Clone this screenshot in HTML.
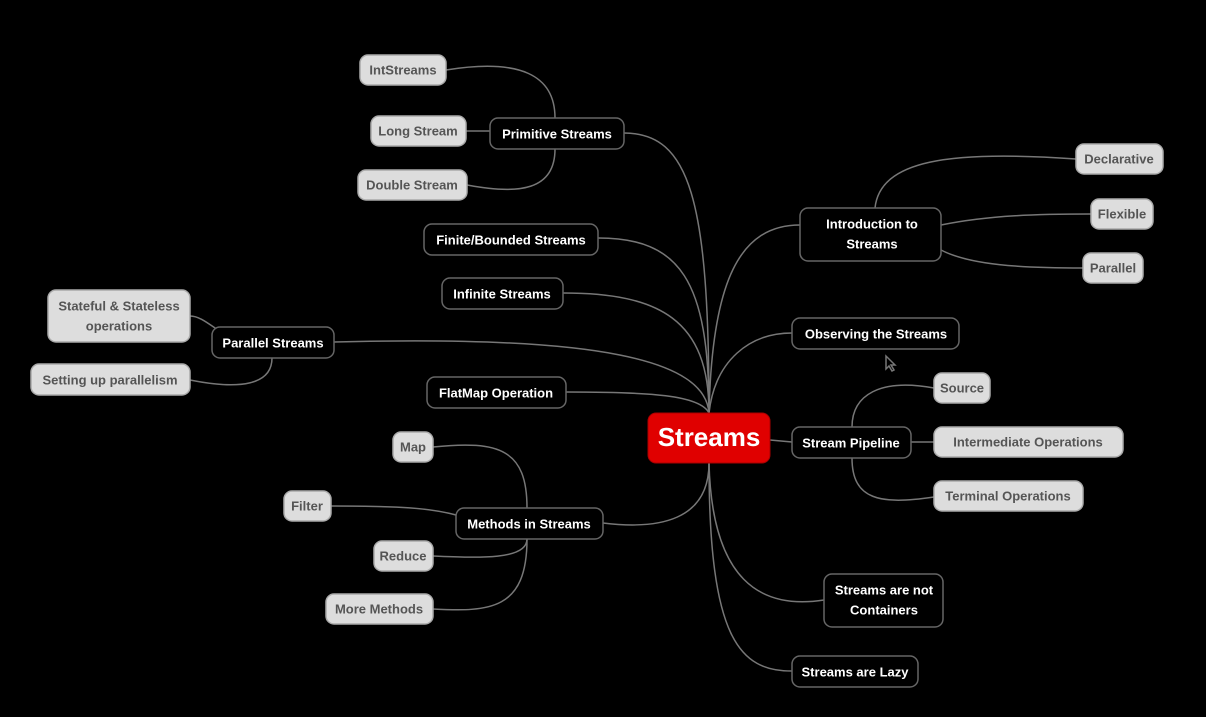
<!DOCTYPE html>
<html><head><meta charset="utf-8"><style>
html,body{margin:0;padding:0;background:#000;width:1206px;height:717px;overflow:hidden}
svg text{font-family:"Liberation Sans",sans-serif;font-weight:bold;font-size:13px;text-anchor:middle;dominant-baseline:central}
.n rect{fill:#000;stroke:#666;stroke-width:1.5}
.n text{fill:#fff}
.l rect{fill:#ddd;stroke:#aaa;stroke-width:1.5}
.l text{fill:#555}
path{fill:none;stroke:#777;stroke-width:1.5}
</style></head><body>
<svg width="1206" height="717" xmlns="http://www.w3.org/2000/svg">
<g>
<path d="M709,413 C709,200 690,133 624,133"/>
<path d="M709,413 C709,280 680,238 598,238"/>
<path d="M709,413 C709,320 660,293 563,293"/>
<path d="M709,413 C705,360 600,335 334,342"/>
<path d="M709,413 C700,395 650,392 566,392"/>
<path d="M709,463 C709,520 660,530 603,523"/>
<path d="M709,413 C712,280 740,225 800,225"/>
<path d="M709,413 C715,360 750,333 792,333"/>
<path d="M770,440 L792,442"/>
<path d="M709,463 C712,580 760,610 824,600"/>
<path d="M709,463 C709,640 740,671 792,671"/>
<path d="M555,118 C555,75 520,58 446,70"/>
<path d="M466,131 L490,131"/>
<path d="M555,149 C555,190 520,195 467,185"/>
<path d="M875,208 C880,160 950,150 1076,159"/>
<path d="M941,225 C990,215 1040,214 1091,214"/>
<path d="M941,250 C970,265 1020,268 1083,268"/>
<path d="M190,316 C200,316 210,325 218,330"/>
<path d="M272,358 C272,385 240,390 190,380"/>
<path d="M852,427 C852,395 880,378 934,388"/>
<path d="M911,442 L934,442"/>
<path d="M852,458 C852,500 880,505 934,497"/>
<path d="M527,508 C527,450 500,440 433,447"/>
<path d="M331,506 C400,506 430,508 456,515"/>
<path d="M527,539 C527,560 480,558 433,556"/>
<path d="M527,539 C527,610 490,612 433,609"/>
</g>
<rect x="648" y="413" width="122" height="50" rx="8" fill="#e00000" stroke="#a00" stroke-width="1"/>
<text x="709" y="437" fill="#fff" style="font-size:26px">Streams</text>
<g class="n">
<rect x="490" y="118" width="134" height="31" rx="8"/><text x="557" y="134">Primitive Streams</text>
<rect x="424" y="224" width="174" height="31" rx="8"/><text x="511" y="240">Finite/Bounded Streams</text>
<rect x="442" y="278" width="121" height="31" rx="8"/><text x="502" y="294">Infinite Streams</text>
<rect x="212" y="327" width="122" height="31" rx="8"/><text x="273" y="343">Parallel Streams</text>
<rect x="427" y="377" width="139" height="31" rx="8"/><text x="496" y="393">FlatMap Operation</text>
<rect x="456" y="508" width="147" height="31" rx="8"/><text x="529" y="524">Methods in Streams</text>
<rect x="800" y="208" width="141" height="53" rx="8"/><text x="872" y="224">Introduction to</text><text x="872" y="244">Streams</text>
<rect x="792" y="318" width="167" height="31" rx="8"/><text x="876" y="334">Observing the Streams</text>
<rect x="792" y="427" width="119" height="31" rx="8"/><text x="851" y="443">Stream Pipeline</text>
<rect x="824" y="574" width="119" height="53" rx="8"/><text x="884" y="590">Streams are not</text><text x="884" y="610">Containers</text>
<rect x="792" y="656" width="126" height="31" rx="8"/><text x="855" y="672">Streams are Lazy</text>
</g>
<g class="l">
<rect x="360" y="55" width="86" height="30" rx="8"/><text x="403" y="70">IntStreams</text>
<rect x="371" y="116" width="95" height="30" rx="8"/><text x="418" y="131">Long Stream</text>
<rect x="358" y="170" width="109" height="30" rx="8"/><text x="412" y="185">Double Stream</text>
<rect x="48" y="290" width="142" height="52" rx="8"/><text x="119" y="306">Stateful &amp; Stateless</text><text x="119" y="326">operations</text>
<rect x="31" y="364" width="159" height="31" rx="8"/><text x="110" y="380">Setting up parallelism</text>
<rect x="393" y="432" width="40" height="30" rx="8"/><text x="413" y="447">Map</text>
<rect x="284" y="491" width="47" height="30" rx="8"/><text x="307" y="506">Filter</text>
<rect x="374" y="541" width="59" height="30" rx="8"/><text x="403" y="556">Reduce</text>
<rect x="326" y="594" width="107" height="30" rx="8"/><text x="379" y="609">More Methods</text>
<rect x="1076" y="144" width="87" height="30" rx="8"/><text x="1119" y="159">Declarative</text>
<rect x="1091" y="199" width="62" height="30" rx="8"/><text x="1122" y="214">Flexible</text>
<rect x="1083" y="253" width="60" height="30" rx="8"/><text x="1113" y="268">Parallel</text>
<rect x="934" y="373" width="56" height="30" rx="8"/><text x="962" y="388">Source</text>
<rect x="934" y="427" width="189" height="30" rx="8"/><text x="1028" y="442">Intermediate Operations</text>
<rect x="934" y="481" width="149" height="30" rx="8"/><text x="1008" y="496">Terminal Operations</text>
</g>
<path d="M886,356 L886,369 L889,366 L892,371 L894,370 L891,365 L895,365 Z" fill="#000" stroke="#ccc" stroke-width="1"/>
</svg>
</body></html>
